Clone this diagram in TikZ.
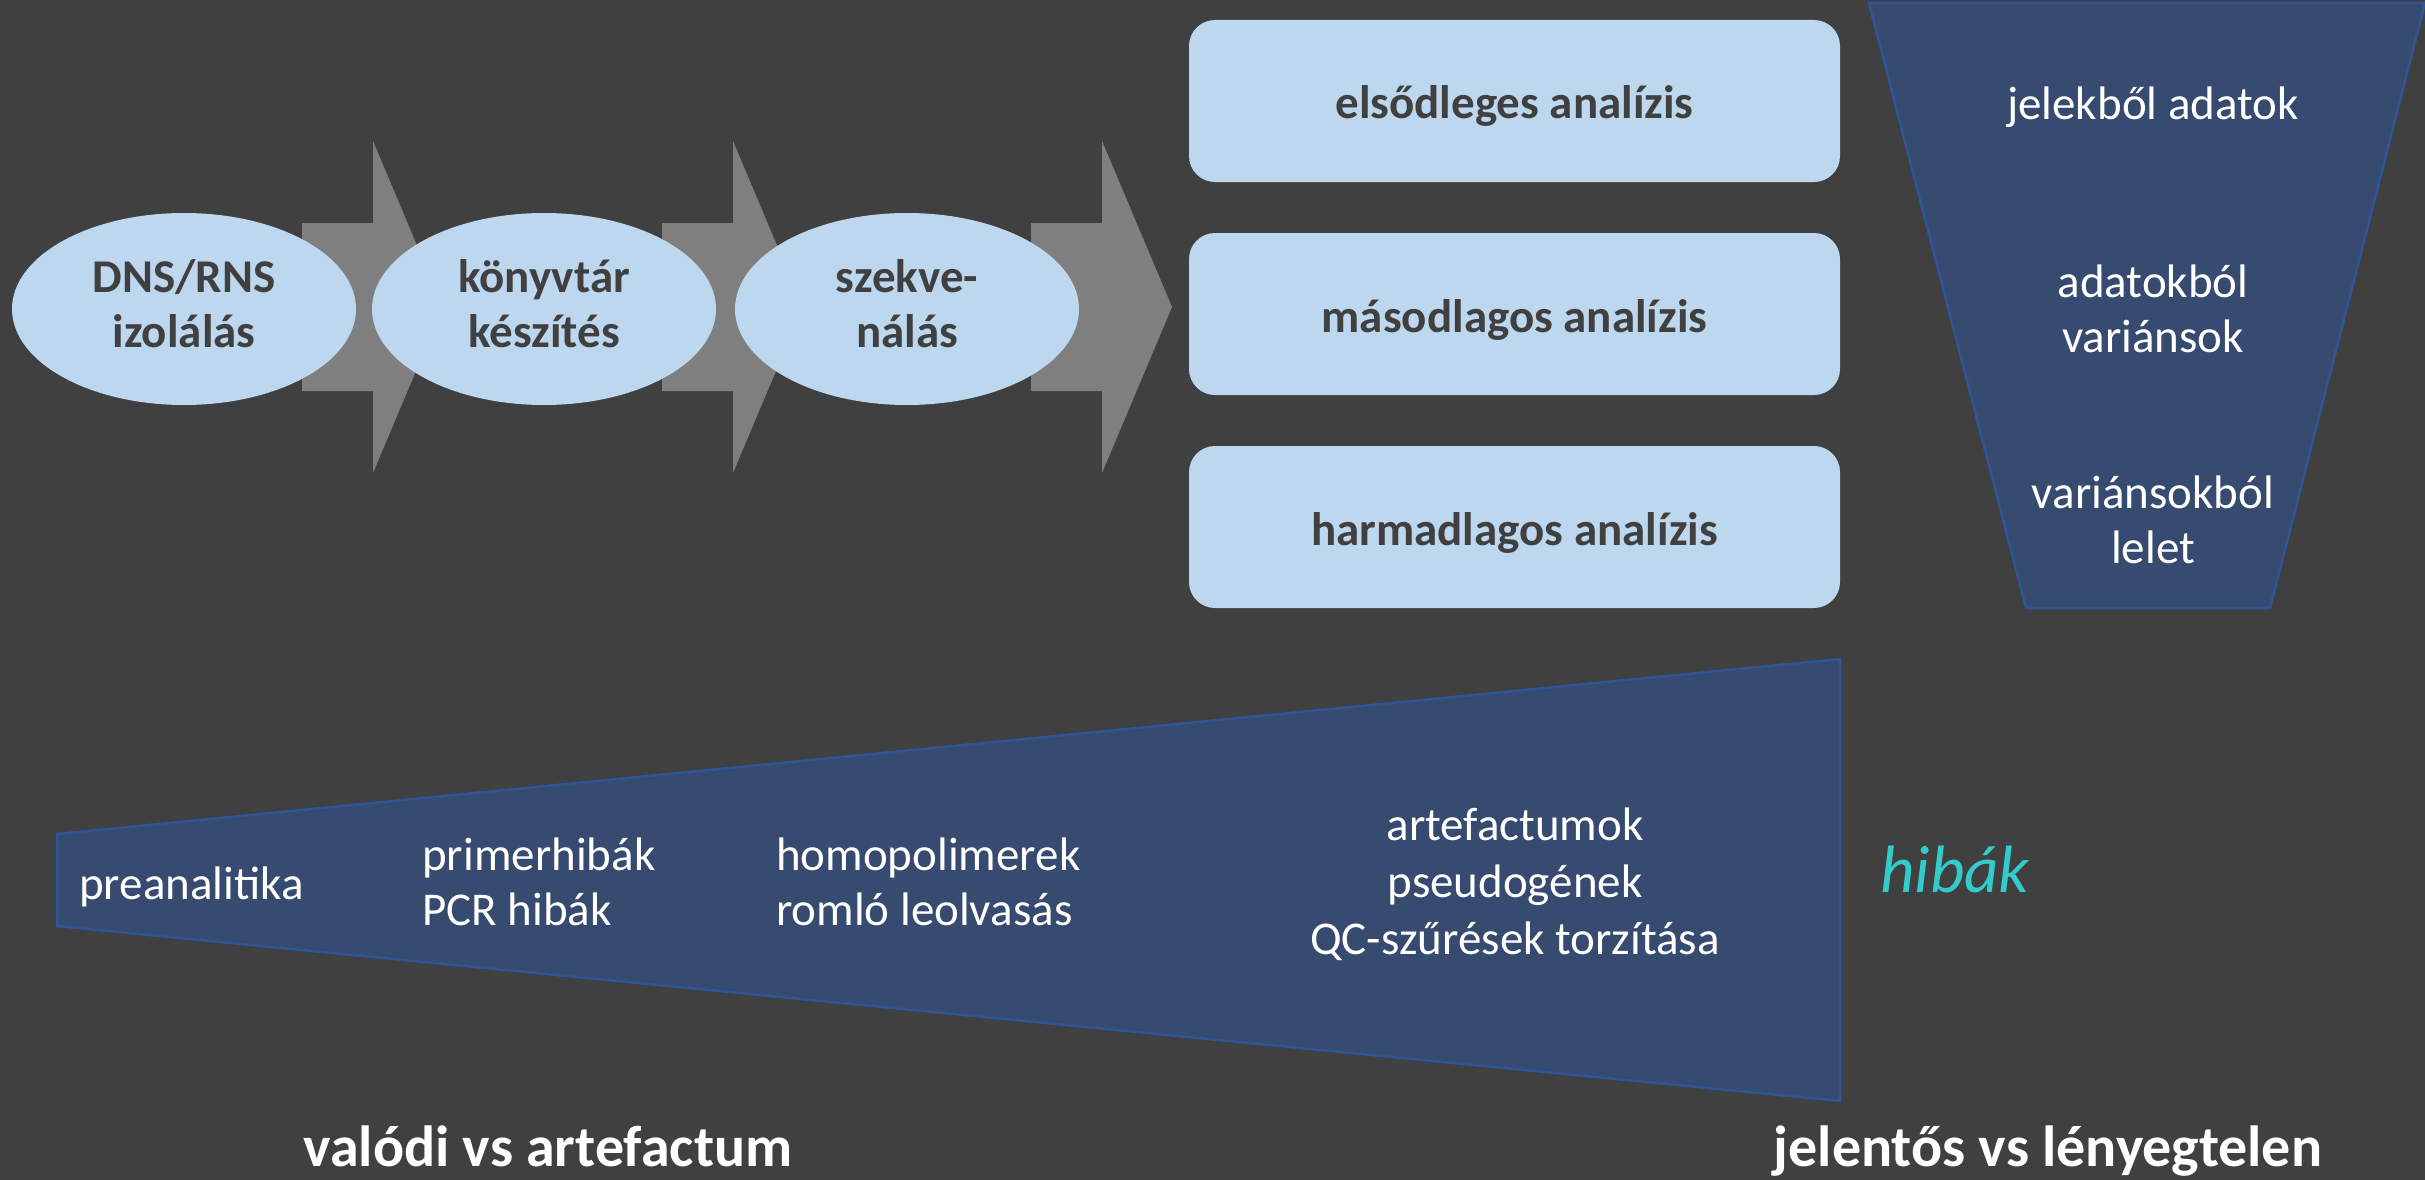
\documentclass[tikz,border=0pt]{standalone}
\usepackage{fontspec}
\setmainfont{Carlito}
\usetikzlibrary{shapes.geometric}
\definecolor{bgc}{HTML}{404040}
\definecolor{lightblue}{HTML}{BDD7EE}
\definecolor{arrowgray}{HTML}{7F7F7F}
\definecolor{darktxt}{HTML}{404040}
\definecolor{navyfill}{HTML}{364B6F}
\definecolor{navyline}{HTML}{2F5597}
\definecolor{tealtxt}{HTML}{33CCCC}
\tikzset{
  stepellipse/.style={ellipse, fill=lightblue, minimum width=344pt, minimum height=192pt, inner sep=0pt,
    align=center, text=darktxt, font=\fontsize{47}{55}\selectfont\bfseries},
  anabox/.style={rectangle, rounded corners=26pt, fill=lightblue, minimum width=651pt, minimum height=162pt,
    inner sep=0pt, text height=46pt, text depth=10pt, text=darktxt, font=\fontsize{47}{55}\selectfont\bfseries},
  wedge/.style={fill=navyfill, draw=navyline, line width=2.5pt, line join=miter},
  wtxt/.style={text=white, inner sep=0pt, font=\fontsize{47}{55}\selectfont},
  bigtxt/.style={text=white, inner sep=0pt, anchor=base, font=\fontsize{58}{70}\selectfont\bfseries},
  blockarrow/.style={fill=arrowgray},
}
\begin{document}
\begin{tikzpicture}[x=1pt,y=-1pt]
\useasboundingbox (0,0) rectangle (2425,1180);
\fill[bgc] (0,0) rectangle (2425,1180);

% block arrows (behind the ellipses)
\coordinate (a1) at (302,306);
\coordinate (a2) at (662,306);
\coordinate (a3) at (1031,306);
\foreach \a in {a1,a2,a3}{
  \fill[blockarrow] (\a) ++(0,-83) -- ++(71,0) -- ++(0,-82) -- ++(70,166) -- ++(-70,166) -- ++(0,-82) -- ++(-71,0) -- cycle;
}

% process ellipses
\node[stepellipse] (iso) at (184,309) {DNS/RNS\strut\\izolálás\strut};
\node[stepellipse] (lib) at (544,309) {könyvtár\strut\\készítés\strut};
\node[stepellipse] (seq) at (907,309) {szekve-\strut\\nálás\strut};

% analysis boxes
\node[anabox] (prim) at (1514.5,101) {elsődleges analízis};
\node[anabox] (sec) at (1514.5,314) {másodlagos analízis};
\node[anabox] (ter) at (1514.5,527) {harmadlagos analízis};

% funnel
\filldraw[wedge] (1869,3) -- (2425,3) -- (2270,608) -- (2026,608) -- cycle;
\node[wtxt] (f1) at (2153,109) {jelekből adatok\strut};
\node[wtxt, align=center] (f2) at (2153,314) {adatokból\strut\\variánsok\strut};
\node[wtxt, align=center] (f3) at (2153,525) {variánsokból\strut\\lelet\strut};

% error wedge
\filldraw[wedge] (57,834) -- (1840,659) -- (1840,1101) -- (57,926) -- cycle;
\node[wtxt, anchor=west] (e1) at (79,888) {preanalitika\strut};
\node[wtxt, anchor=west, align=left] (e2) at (422,887) {primerhibák\strut\\PCR hibák\strut};
\node[wtxt, anchor=west, align=left] (e3) at (776,887) {homopolimerek\strut\\romló leolvasás\strut};
\node[wtxt, align=center, font=\fontsize{47}{57}\selectfont] (e4) at (1515,886) {artefactumok\strut\\pseudogének\strut\\QC-szűrések torzítása\strut};

\node[text=tealtxt, inner sep=0pt, anchor=west, font=\fontsize{67}{80}\selectfont\itshape] (hib) at (1880,876) {hibák\strut};

% bottom labels
\node[bigtxt] (l1) at (548,1166) {valódi vs artefactum};
\node[bigtxt] (l2) at (2048,1166) {jelentős vs lényegtelen};
\end{tikzpicture}
\end{document}
